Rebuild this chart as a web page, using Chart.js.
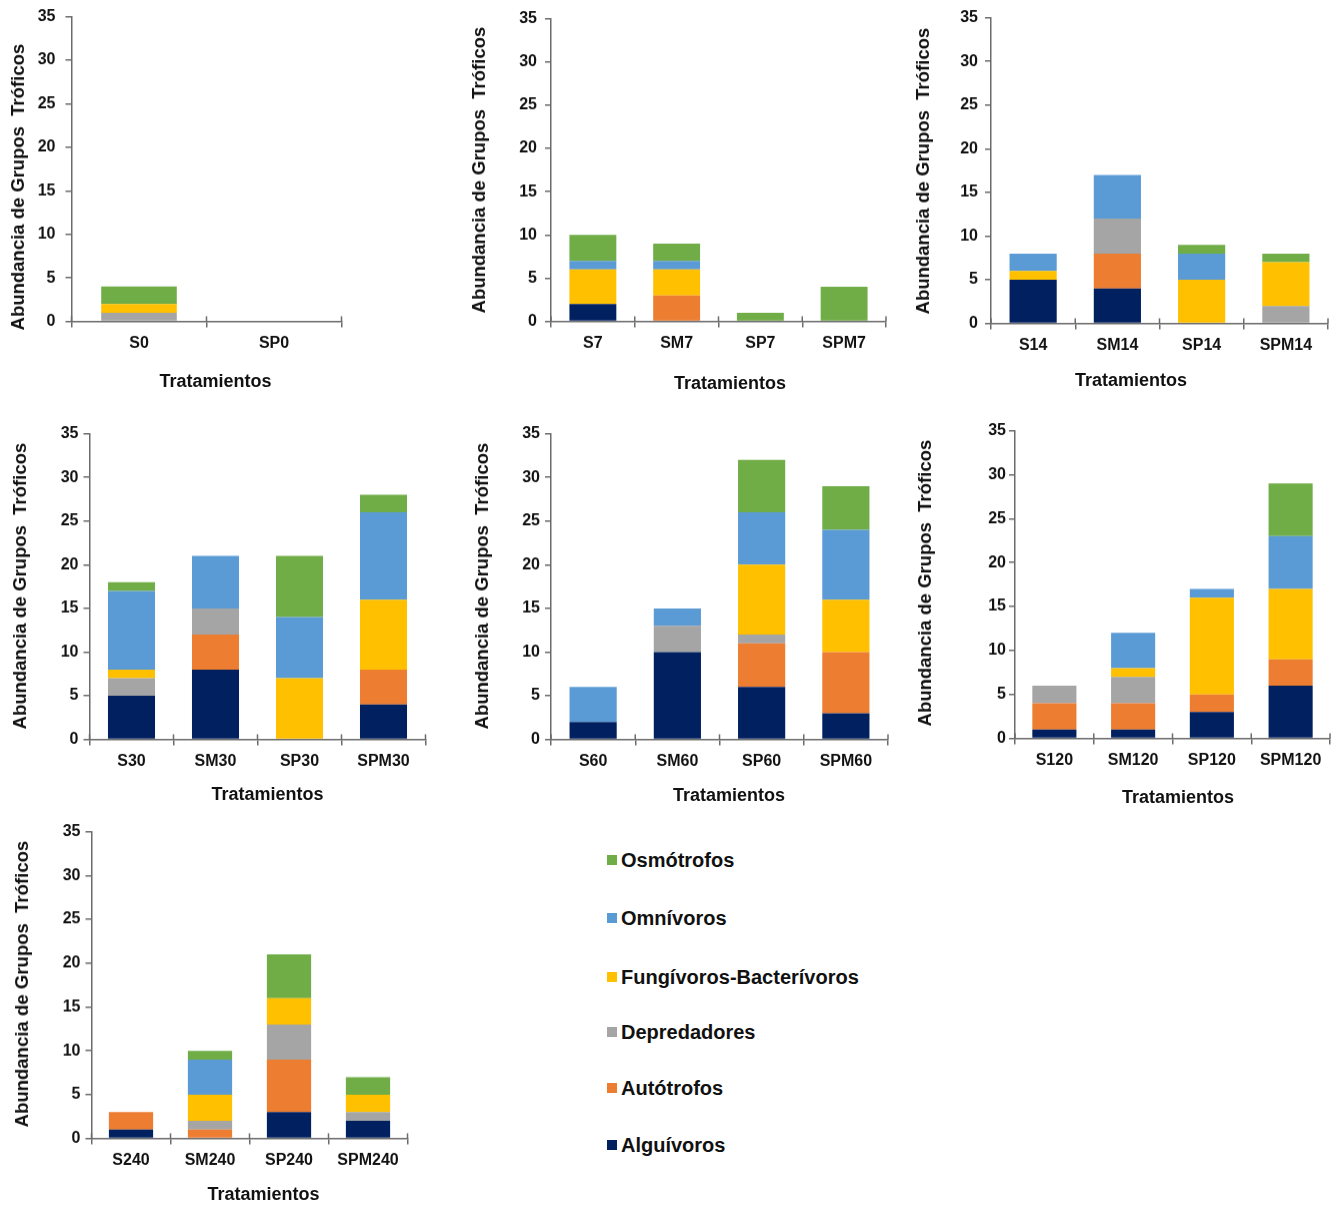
<!DOCTYPE html>
<html lang="es">
<head>
<meta charset="utf-8">
<title>Abundancia de Grupos Tróficos</title>
<script src="https://cdn.jsdelivr.net/npm/chart.js@4/dist/chart.umd.min.js"></script>
<style>
  html, body { margin: 0; padding: 0; background: #ffffff; }
  body { width: 1338px; height: 1207px; position: relative; overflow: hidden; font-family: "Liberation Sans", Arial, sans-serif; }
  .panel { position: absolute; }
  .legend { position: absolute; left: 0; top: 0; }
  .legend-row { position: absolute; display: flex; align-items: center; white-space: nowrap;
    font: bold 20px "Liberation Sans", Arial, sans-serif; color: #111; }
  .legend-row span.box { display: inline-block; width: 10px; height: 10px; margin-right: 4px; }
</style>
</head>
<body>
<script>
// Trophic groups, in stacking order (bottom to top)
const groups = ['Alguívoros', 'Autótrofos', 'Depredadores', 'Fungívoros-Bacterívoros', 'Omnívoros', 'Osmótrofos'];
const groupColors = ['#002060', '#ED7D31', '#A5A5A5', '#FFC000', '#5B9BD5', '#70AD47'];

// Treatments per sampling day; each values table has one row per group
const labelsD0 = ['S0', 'SP0'];
const valuesD0 = [[0, 0], [0, 0], [1, 0], [1, 0], [0, 0], [2, 0]];

const labelsD7 = ['S7', 'SM7', 'SP7', 'SPM7'];
const valuesD7 = [[2, 0, 0, 0], [0, 3, 0, 0], [0, 0, 0, 0], [4, 3, 0, 0], [1, 1, 0, 0], [3, 2, 1, 4]];

const labelsD14 = ['S14', 'SM14', 'SP14', 'SPM14'];
const valuesD14 = [[5, 4, 0, 0], [0, 4, 0, 0], [0, 4, 0, 2], [1, 0, 5, 5], [2, 5, 3, 0], [0, 0, 1, 1]];

const labelsD30 = ['S30', 'SM30', 'SP30', 'SPM30'];
const valuesD30 = [[5, 8, 0, 4], [0, 4, 0, 4], [2, 3, 0, 0], [1, 0, 7, 8], [9, 6, 7, 10], [1, 0, 7, 2]];

const labelsD60 = ['S60', 'SM60', 'SP60', 'SPM60'];
const valuesD60 = [[2, 10, 6, 3], [0, 0, 5, 7], [0, 3, 1, 0], [0, 0, 8, 6], [4, 2, 6, 8], [0, 0, 6, 5]];

const labelsD120 = ['S120', 'SM120', 'SP120', 'SPM120'];
const valuesD120 = [[1, 1, 3, 6], [3, 3, 2, 3], [2, 3, 0, 0], [0, 1, 11, 8], [0, 4, 1, 6], [0, 0, 0, 6]];

const labelsD240 = ['S240', 'SM240', 'SP240', 'SPM240'];
const valuesD240 = [[1, 0, 3, 2], [2, 1, 6, 0], [0, 1, 4, 1], [0, 3, 3, 2], [0, 4, 0, 0], [0, 1, 5, 2]];

const yTicks = [0, 5, 10, 15, 20, 25, 30, 35];
const yTitle = 'Abundancia de Grupos  Tróficos';
const xTitle = 'Tratamientos';

// Panel geometry: plot area (l, t, r, b), title centres (y title: yx, yc; x title: xc, xy), tick label gap
const panels = [
  { labels: labelsD0,   values: valuesD0,   l: 71,   t: 17,  r: 341,  b: 321,  yx: 18.5, yc: 187, xc: 215, xy: 381, gap: 10 },
  { labels: labelsD7,   values: valuesD7,   l: 551,  t: 19,  r: 886,  b: 321,  yx: 480,  yc: 170, xc: 730, xy: 383, gap: 8 },
  { labels: labelsD14,  values: valuesD14,  l: 991,  t: 18,  r: 1328, b: 323,  yx: 924,  yc: 171, xc: 1131, xy: 380, gap: 7 },
  { labels: labelsD30,  values: valuesD30,  l: 89,   t: 434, r: 425,  b: 739,  yx: 20.5, yc: 586, xc: 267, xy: 794, gap: 5 },
  { labels: labelsD60,  values: valuesD60,  l: 551,  t: 434, r: 888,  b: 739,  yx: 483,  yc: 586, xc: 729, xy: 795, gap: 5 },
  { labels: labelsD120, values: valuesD120, l: 1015, t: 431, r: 1330, b: 738,  yx: 926,  yc: 583, xc: 1178, xy: 797, gap: 3 },
  { labels: labelsD240, values: valuesD240, l: 91,   t: 832, r: 407,  b: 1138, yx: 22.5, yc: 984, xc: 263, xy: 1194, gap: 5 }
];

const FONT = '"Liberation Sans", Arial, sans-serif';
const AXIS = '#6b6b6b';
const TEXT = '#111111';
const EDGE = 14;         // room kept around the axis titles
const LABEL_HALF = 9.6;  // half line height of the 16px tick labels
const PAD_RIGHT = 4;

// Axis titles at fixed centres, plus the upper half of the crossing category tick marks
const axisDecor = {
  id: 'axisDecor',
  afterDraw(chart, args, opts) {
    const { ctx, chartArea } = chart;
    const x = chart.scales.x;
    const n = chart.data.labels.length;
    ctx.save();
    ctx.strokeStyle = AXIS;
    ctx.lineWidth = 1.5;
    ctx.beginPath();
    for (let i = 0; i <= n; i++) {
      const px = x.getPixelForValue(i - 0.5);
      ctx.moveTo(px, chartArea.bottom - 5);
      ctx.lineTo(px, chartArea.bottom);
    }
    ctx.stroke();

    ctx.fillStyle = TEXT;
    ctx.textAlign = 'center';
    ctx.textBaseline = 'middle';
    ctx.font = 'bold 18px ' + FONT;
    ctx.fillText(opts.xText, opts.xc - opts.left, opts.xy - opts.top);
    ctx.font = 'bold 18.5px ' + FONT;
    ctx.translate(opts.yx - opts.left, opts.yc - opts.top);
    ctx.rotate(-Math.PI / 2);
    ctx.fillText(opts.yText, 0, 0);
    ctx.restore();
  }
};

panels.forEach((p) => {
  const cl = p.yx - EDGE;
  const ct = p.t - (LABEL_HALF + p.gap);
  const cw = p.r + PAD_RIGHT - cl;
  const ch = p.xy + EDGE - ct;
  const yWidth = p.l - cl;
  const xHeight = p.xy + EDGE - p.b;

  const wrap = document.createElement('div');
  wrap.className = 'panel';
  wrap.style.left = cl + 'px';
  wrap.style.top = ct + 'px';
  wrap.style.width = cw + 'px';
  wrap.style.height = ch + 'px';
  const canvas = document.createElement('canvas');
  wrap.appendChild(canvas);
  document.body.appendChild(wrap);

  new Chart(canvas, {
    type: 'bar',
    data: {
      labels: p.labels,
      datasets: groups.map((g, i) => ({
        label: g,
        data: p.values[i],
        backgroundColor: groupColors[i],
        borderWidth: 0,
        barPercentage: 1,
        categoryPercentage: 0.56
      }))
    },
    plugins: [axisDecor],
    options: {
      responsive: true,
      maintainAspectRatio: false,
      animation: false,
      devicePixelRatio: 1,
      layout: { padding: { top: 0, right: PAD_RIGHT, left: 0, bottom: 0 } },
      plugins: {
        legend: { display: false },
        tooltip: { enabled: false },
        axisDecor: { left: cl, top: ct, xText: xTitle, yText: yTitle, xc: p.xc, xy: p.xy, yx: p.yx, yc: p.yc }
      },
      scales: {
        x: {
          stacked: true,
          offset: true,
          border: { display: true, color: AXIS, width: 1.5 },
          grid: { display: true, drawOnChartArea: false, drawTicks: true, tickLength: 6, color: AXIS, lineWidth: 1.5, offset: true },
          ticks: { color: TEXT, padding: 6, font: { family: FONT, size: 16, weight: 'bold' }, maxRotation: 0 },
          title: { display: false },
          afterFit: (s) => { s.height = xHeight; }
        },
        y: {
          stacked: true,
          min: 0,
          max: 35,
          afterBuildTicks: (s) => { s.ticks = yTicks.map((v) => ({ value: v })); },
          border: { display: true, color: AXIS, width: 1.5 },
          grid: { display: true, drawOnChartArea: false, drawTicks: true, tickLength: 6, color: AXIS, lineWidth: 1.5 },
          ticks: { color: TEXT, padding: p.gap, font: { family: FONT, size: 16, weight: 'bold' } },
          title: { display: false },
          afterFit: (s) => { s.width = yWidth; }
        }
      }
    }
  });
});

// Shared legend, listed top-down from the last stacked group to the first
const legendRows = [860, 918, 977, 1032, 1088, 1145];
const legend = document.createElement('div');
legend.className = 'legend';
groups.slice().reverse().forEach((g, i) => {
  const row = document.createElement('div');
  row.className = 'legend-row';
  row.style.left = '607px';
  row.style.top = (legendRows[i] - 12) + 'px';
  row.style.height = '24px';
  const box = document.createElement('span');
  box.className = 'box';
  box.style.background = groupColors[groups.length - 1 - i];
  const txt = document.createElement('span');
  txt.textContent = g;
  row.appendChild(box);
  row.appendChild(txt);
  legend.appendChild(row);
});
document.body.appendChild(legend);
</script>
</body>
</html>
